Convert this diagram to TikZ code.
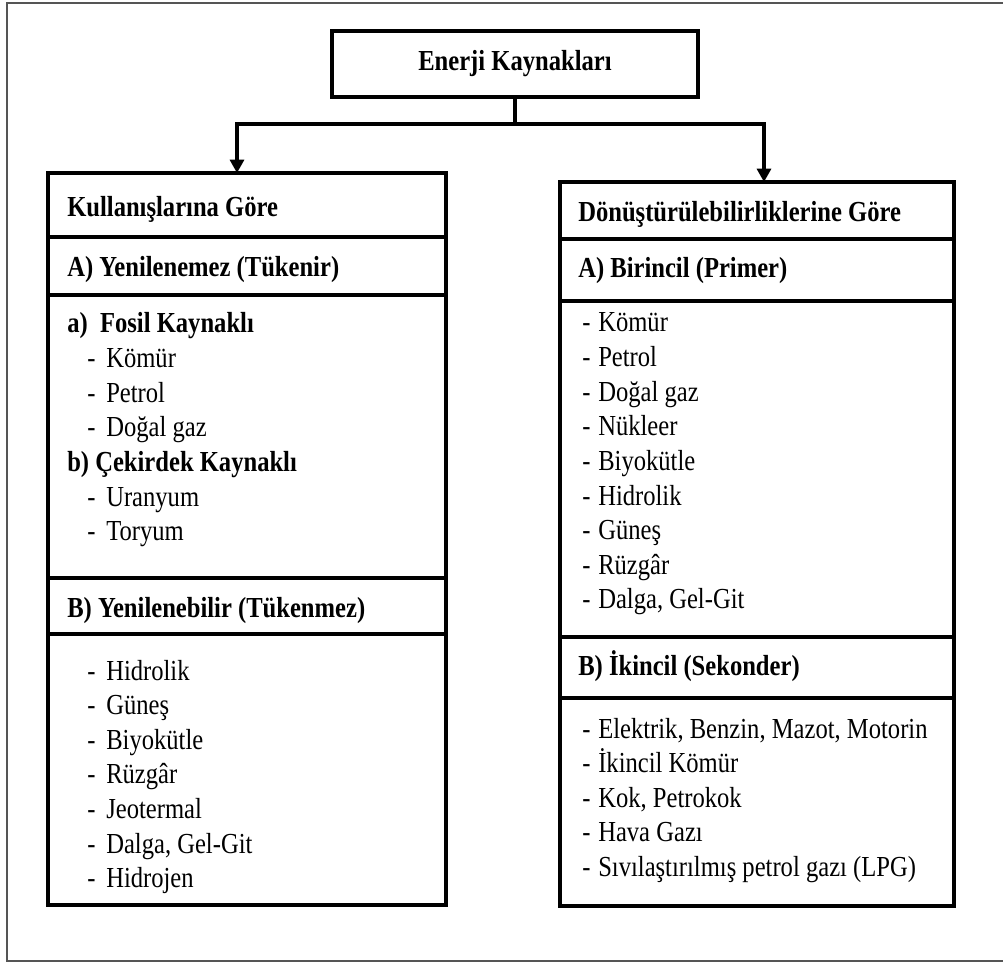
\documentclass[tikz,border=0pt]{standalone}
\usepackage{fontspec}
\setmainfont{Liberation Serif}
\usepackage{graphicx}
\usetikzlibrary{arrows.meta}
\newcommand{\tx}[1]{\scalebox{1}[1.18]{#1}}
\newcommand{\lst}[1]{\scalebox{1}[1.18]{\begin{tabular}[t]{@{}l@{}}#1\end{tabular}}}
\newcommand{\dl}[1]{\makebox[14.25pt][l]{-}#1}
\newcommand{\dr}[1]{\makebox[12pt][l]{-}#1}
\definecolor{framegray}{HTML}{555555}
\begin{document}
\begin{tikzpicture}[x=0.75pt,y=-0.75pt,
  font=\fontsize{18.45}{22}\selectfont,
  box/.style={draw, line width=2.5pt, inner sep=0pt},
  txt/.style={anchor=base west, inner sep=0pt},
  conn/.style={line width=2.3pt},
  arr/.style={conn, -{Triangle[length=10pt,width=10.5pt]}},
  divline/.style={line width=2.3pt},
  framel/.style={draw=framegray, line width=1.5pt}]
\useasboundingbox (0,0) rectangle (1003,962);
\draw[framel] (1003,3) -- (7,3) -- (7,961) -- (1003,961);

\node[box, minimum width=274.5pt, minimum height=49.5pt] (top) at (515,64) {\tx{\textbf{Enerji Kaynakları}}};
\node[box, line width=2.8pt, minimum width=298.5pt, minimum height=549pt] (L) at (247,539) {};
\node[box, minimum width=295.5pt, minimum height=543pt] (R) at (757,544) {};

% dividers
\draw[divline] (L.west |- 0,237) -- (L.east |- 0,237);
\draw[divline] (L.west |- 0,295) -- (L.east |- 0,295);
\draw[divline] (L.west |- 0,578) -- (L.east |- 0,578);
\draw[divline] (L.west |- 0,634) -- (L.east |- 0,634);
\draw[divline] (R.west |- 0,239) -- (R.east |- 0,239);
\draw[divline] (R.west |- 0,301) -- (R.east |- 0,301);
\draw[divline] (R.west |- 0,637) -- (R.east |- 0,637);
\draw[divline] (R.west |- 0,698) -- (R.east |- 0,698);

% connectors
\coordinate (j) at (top.south |- 0,124);
\coordinate (lt) at (237,173);
\coordinate (rt) at (764,182);
\draw[conn] (top.south) -- (j);
\draw[arr] (j) -| (lt);
\draw[arr] (j) -| (rt);

% left texts
\node[txt] (lh) at (67,217) {\tx{\textbf{Kullanışlarına Göre}}};
\node[txt] (la) at (67,277) {\tx{\textbf{A) Yenilenemez (Tükenir)}}};
\node[txt] (lalist) at (67,333) {\lst{\textbf{a)~~Fosil Kaynaklı}\\
 \hspace{15pt}\dl{Kömür}\\
 \hspace{15pt}\dl{Petrol}\\
 \hspace{15pt}\dl{Doğal gaz}\\
 \textbf{b) Çekirdek Kaynaklı}\\
 \hspace{15pt}\dl{Uranyum}\\
 \hspace{15pt}\dl{Toryum}}};
\node[txt] (lb) at (67,617) {\tx{\textbf{B) Yenilenebilir (Tükenmez)}}};
\node[txt] (lblist) at (87,680) {\lst{\dl{Hidrolik}\\
 \dl{Güneş}\\
 \dl{Biyokütle}\\
 \dl{Rüzgâr}\\
 \dl{Jeotermal}\\
 \dl{Dalga, Gel-Git}\\
 \dl{Hidrojen}}};

% right texts
\node[txt] (rh) at (578,222) {\tx{\textbf{Dönüştürülebilirliklerine Göre}}};
\node[txt] (ra) at (578,278) {\tx{\textbf{A) Birincil (Primer)}}};
\node[txt] (ralist) at (582,332) {\lst{\dr{Kömür}\\
 \dr{Petrol}\\
 \dr{Doğal gaz}\\
 \dr{Nükleer}\\
 \dr{Biyokütle}\\
 \dr{Hidrolik}\\
 \dr{Güneş}\\
 \dr{Rüzgâr}\\
 \dr{Dalga, Gel-Git}}};
\node[txt] (rb) at (578,675) {\tx{\textbf{B) İkincil (Sekonder)}}};
\node[txt] (rblist) at (582,738) {\lst{\dr{Elektrik, Benzin, Mazot, Motorin}\\
 \dr{İkincil Kömür}\\
 \dr{Kok, Petrokok}\\
 \dr{Hava Gazı}\\
 \dr{Sıvılaştırılmış petrol gazı (LPG)}}};
\end{tikzpicture}
\end{document}
